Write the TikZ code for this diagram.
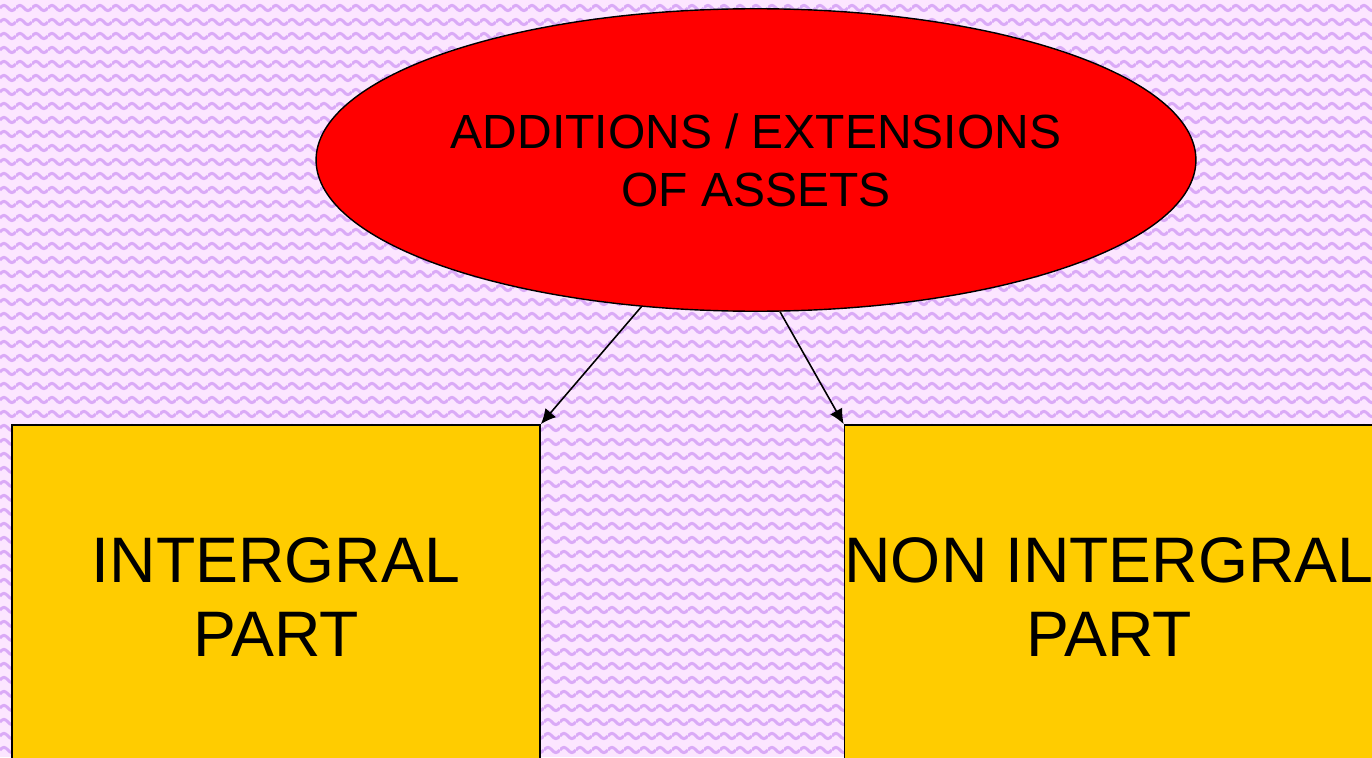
\documentclass[tikz,border=0pt]{standalone}
\usepackage{fontspec}
\setmainfont{Liberation Sans}
\usetikzlibrary{shapes,arrows.meta,patterns,positioning}
\definecolor{bgpink}{RGB}{252,230,255}
\definecolor{wavy}{RGB}{218,170,247}
\definecolor{boxgold}{RGB}{255,204,0}
\pgfdeclarepatternformonly{waves}{\pgfpointorigin}{\pgfpoint{9.07pt}{7.94pt}}{\pgfpoint{9.07pt}{7.94pt}}{
\pgfsetlinewidth{1.7pt}
\pgfpathmoveto{\pgfpoint{0pt}{4pt}}
\pgfpathsine{\pgfpoint{2.27pt}{1.5pt}}
\pgfpathcosine{\pgfpoint{2.27pt}{-1.5pt}}
\pgfpathsine{\pgfpoint{2.27pt}{-1.5pt}}
\pgfpathcosine{\pgfpoint{2.27pt}{1.5pt}}
\pgfusepath{stroke}}

\begin{document}
\begin{tikzpicture}[>={Latex[length=0.3cm,width=0.28cm]},
  asset/.style={ellipse,draw,line width=0.8pt,fill=red,minimum width=17.5cm,minimum height=6.05cm,align=center,font=\fontsize{27.3}{33}\selectfont},
  part/.style={rectangle,draw,line width=1pt,fill=boxgold,minimum width=10.56cm,minimum height=6.88cm,align=center,inner sep=0pt,font=\fontsize{36.6}{42.5}\selectfont}]
\useasboundingbox (0,0) rectangle (27.44,15.14);
\fill[bgpink] (0,0) rectangle (27.44,15.14);
\fill[pattern=waves,pattern color=wavy] (0,0) rectangle (27.44,15.14);
\node[asset] (add) at (15.12,11.94) {ADDITIONS / EXTENSIONS\\OF ASSETS};
\node[part] (int) at (5.52,3.2) {INTERGRAL\\PART};
\node[part] (nonint) at (22.18,3.2) {NON INTERGRAL\\PART};
\draw[->,line width=0.9pt] (add.-128) -- (int.north east);
\draw[->,line width=0.9pt] (add.-81) -- (nonint.north west);
\end{tikzpicture}
\end{document}
